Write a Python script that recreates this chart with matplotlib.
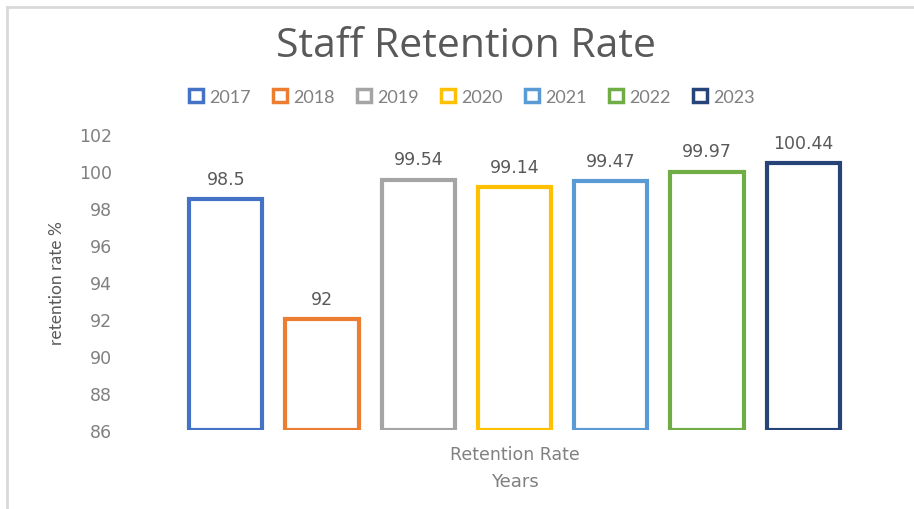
# Staff retention rate chart, Excel style hollow bars
import matplotlib.pyplot as plt
from matplotlib.patches import Rectangle
from matplotlib.lines import Line2D

# Data
years = ['2017', '2018', '2019', '2020', '2021', '2022', '2023']
rates = [98.5, 92, 99.54, 99.14, 99.47, 99.97, 100.44]
labels = ['98.5', '92', '99.54', '99.14', '99.47', '99.97', '100.44']
colors = ['#4472C4', '#ED7D31', '#A5A5A5', '#FFC000', '#5B9BD5', '#70AD47', '#264478']
yticks = [86, 88, 90, 92, 94, 96, 98, 100, 102]

base = 86
W, H = 914, 510
fig = plt.figure(figsize=[W / 100, H / 100], dpi=100)

# Axes placed in pixels
left, right, top, bottom = 120, 909, 135, 431
ax = fig.add_axes([left / W, (H - bottom) / H, (right - left) / W, (bottom - top) / H])

x = list(range(len(years)))
heights = [r - base for r in rates]
ax.bar(x, heights, bottom=base, width=0.76, facecolor='white',
       edgecolor=colors, linewidth=3)

for xi, r, lab in zip(x, rates, labels):
    ax.annotate(lab, (xi, r), xytext=(0, 8), textcoords='offset points',
                ha='center', va='bottom', fontsize=12.5, color='#595959',
                family='DejaVu Sans')

ax.set_xlim(-1.1, 7.1)
ax.set_ylim(86, 102)
ax.set_yticks(yticks)
ax.set_xticks([])
ax.tick_params(axis='y', length=0, pad=6, labelsize=12.5, labelcolor='#808080')
for s in ax.spines.values():
    s.set_visible(False)

# Title
fig.text(466 / W, 1 - 47 / H, 'Staff Retention Rate', ha='center', va='center',
         fontsize=29.5, color='#595959', family='Open Sans')

# Legend
handles = [Rectangle((0, 0), 1, 1, facecolor='white', edgecolor=c, linewidth=2.5)
           for c in colors]
leg = fig.legend(handles, years, ncol=7, loc='center', bbox_to_anchor=(472 / W, 1 - 98 / H),
                 frameon=False, handlelength=0.75, handleheight=0.75, handletextpad=0.35,
                 columnspacing=1.25, prop={'family': 'Lato', 'size': 13})
for t in leg.get_texts():
    t.set_color('#808080')

# Category and axis titles
fig.text(515 / W, 1 - 455 / H, 'Retention Rate', ha='center', va='center',
         fontsize=12.5, color='#808080', family='DejaVu Sans')
fig.text(515 / W, 1 - 482 / H, 'Years', ha='center', va='center',
         fontsize=13, color='#808080', family='DejaVu Sans')
fig.text(57 / W, 1 - 283 / H, 'retention rate %', ha='center', va='center',
         rotation=90, fontsize=12.5, color='#595959', family='Lato')

# Light border of the chart box
fig.add_artist(Line2D([7 / W, 1], [1 - 8 / H, 1 - 8 / H], color='#d9d9d9', lw=2))
fig.add_artist(Line2D([7 / W, 7 / W], [0, 1 - 8 / H], color='#d9d9d9', lw=2))

plt.savefig('out.png', dpi=100)
